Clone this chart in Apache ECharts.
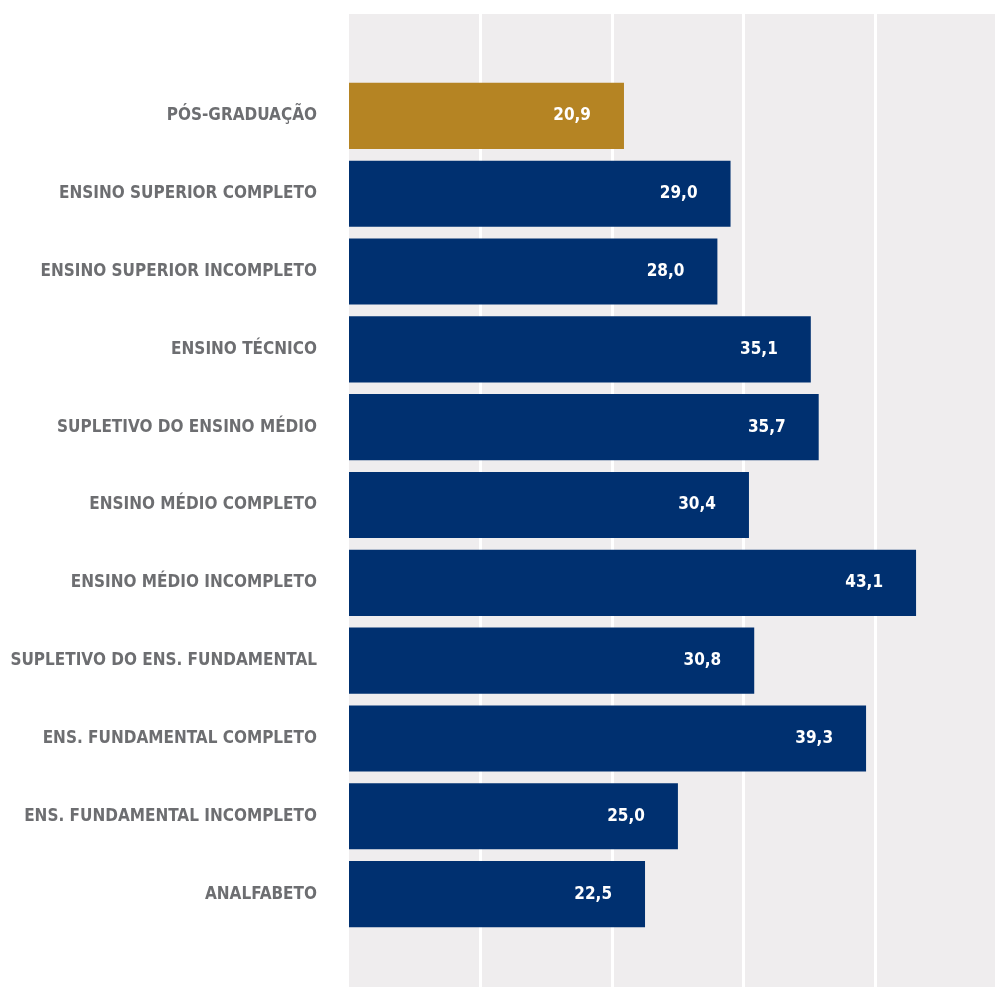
<!DOCTYPE html>
<html>
<head>
<meta charset="utf-8">
<script src="https://cdn.jsdelivr.net/npm/echarts@6/dist/echarts.min.js"></script>
<style>
  html, body { margin: 0; padding: 0; background: #ffffff; }
  #chart { width: 995px; height: 987px; }
</style>
</head>
<body>
<div id="chart"></div>
<script>
// Escolaridade (de cima para baixo)
const categories = [
  'PÓS-GRADUAÇÃO',
  'ENSINO SUPERIOR COMPLETO',
  'ENSINO SUPERIOR INCOMPLETO',
  'ENSINO TÉCNICO',
  'SUPLETIVO DO ENSINO MÉDIO',
  'ENSINO MÉDIO COMPLETO',
  'ENSINO MÉDIO INCOMPLETO',
  'SUPLETIVO DO ENS. FUNDAMENTAL',
  'ENS. FUNDAMENTAL COMPLETO',
  'ENS. FUNDAMENTAL INCOMPLETO',
  'ANALFABETO'
];
const values = [20.9, 29.0, 28.0, 35.1, 35.7, 30.4, 43.1, 30.8, 39.3, 25.0, 22.5];
const highlightIndex = 0;

const xMax = 49.1;
const labelFont = '"DejaVu Sans Condensed", "Liberation Sans Narrow", "Roboto", sans-serif';

const chart = echarts.init(document.getElementById('chart'), null, { renderer: 'canvas' });

chart.setOption({
  animation: false,
  backgroundColor: '#ffffff',
  grid: [
    // painel de fundo com as linhas de grade
    { left: 349, right: 0, top: 14, bottom: 0, show: true, backgroundColor: '#efedee',
      borderWidth: 0, containLabel: false, outerBoundsMode: 'none' },
    // barras
    { left: 349, right: 0, top: 77, bottom: 54, containLabel: false, outerBoundsMode: 'none' }
  ],
  xAxis: [
    {
      gridIndex: 0, type: 'value', min: 0, max: xMax, interval: 10,
      axisLine: { show: false }, axisTick: { show: false }, axisLabel: { show: false },
      splitLine: { show: true, showMinLine: false, showMaxLine: false,
                   lineStyle: { color: '#ffffff', width: 3 } }
    },
    {
      gridIndex: 1, type: 'value', min: 0, max: xMax, interval: 10,
      axisLine: { show: false }, axisTick: { show: false }, axisLabel: { show: false },
      splitLine: { show: false }
    }
  ],
  yAxis: [
    {
      gridIndex: 0, type: 'category', data: [''],
      axisLine: { show: false }, axisTick: { show: false }, axisLabel: { show: false }
    },
    {
      gridIndex: 1, type: 'category', data: categories, inverse: true,
      axisLine: { show: false }, axisTick: { show: false },
      axisLabel: {
        margin: 32,
        color: '#6d6e71',
        fontFamily: labelFont,
        fontWeight: 'bold',
        fontSize: 17
      }
    }
  ],
  series: [
    {
      type: 'bar',
      xAxisIndex: 1,
      yAxisIndex: 1,
      barCategoryGap: '15%',
      data: values.map((v, i) => ({
        value: v,
        itemStyle: { color: i === highlightIndex ? '#b58423' : '#003070' }
      })),
      label: {
        show: true,
        position: 'insideRight',
        distance: 33,
        color: '#ffffff',
        fontFamily: labelFont,
        fontWeight: 'bold',
        fontSize: 17,
        formatter: p => p.value.toFixed(1).replace('.', ',')
      }
    }
  ]
});
</script>
</body>
</html>
